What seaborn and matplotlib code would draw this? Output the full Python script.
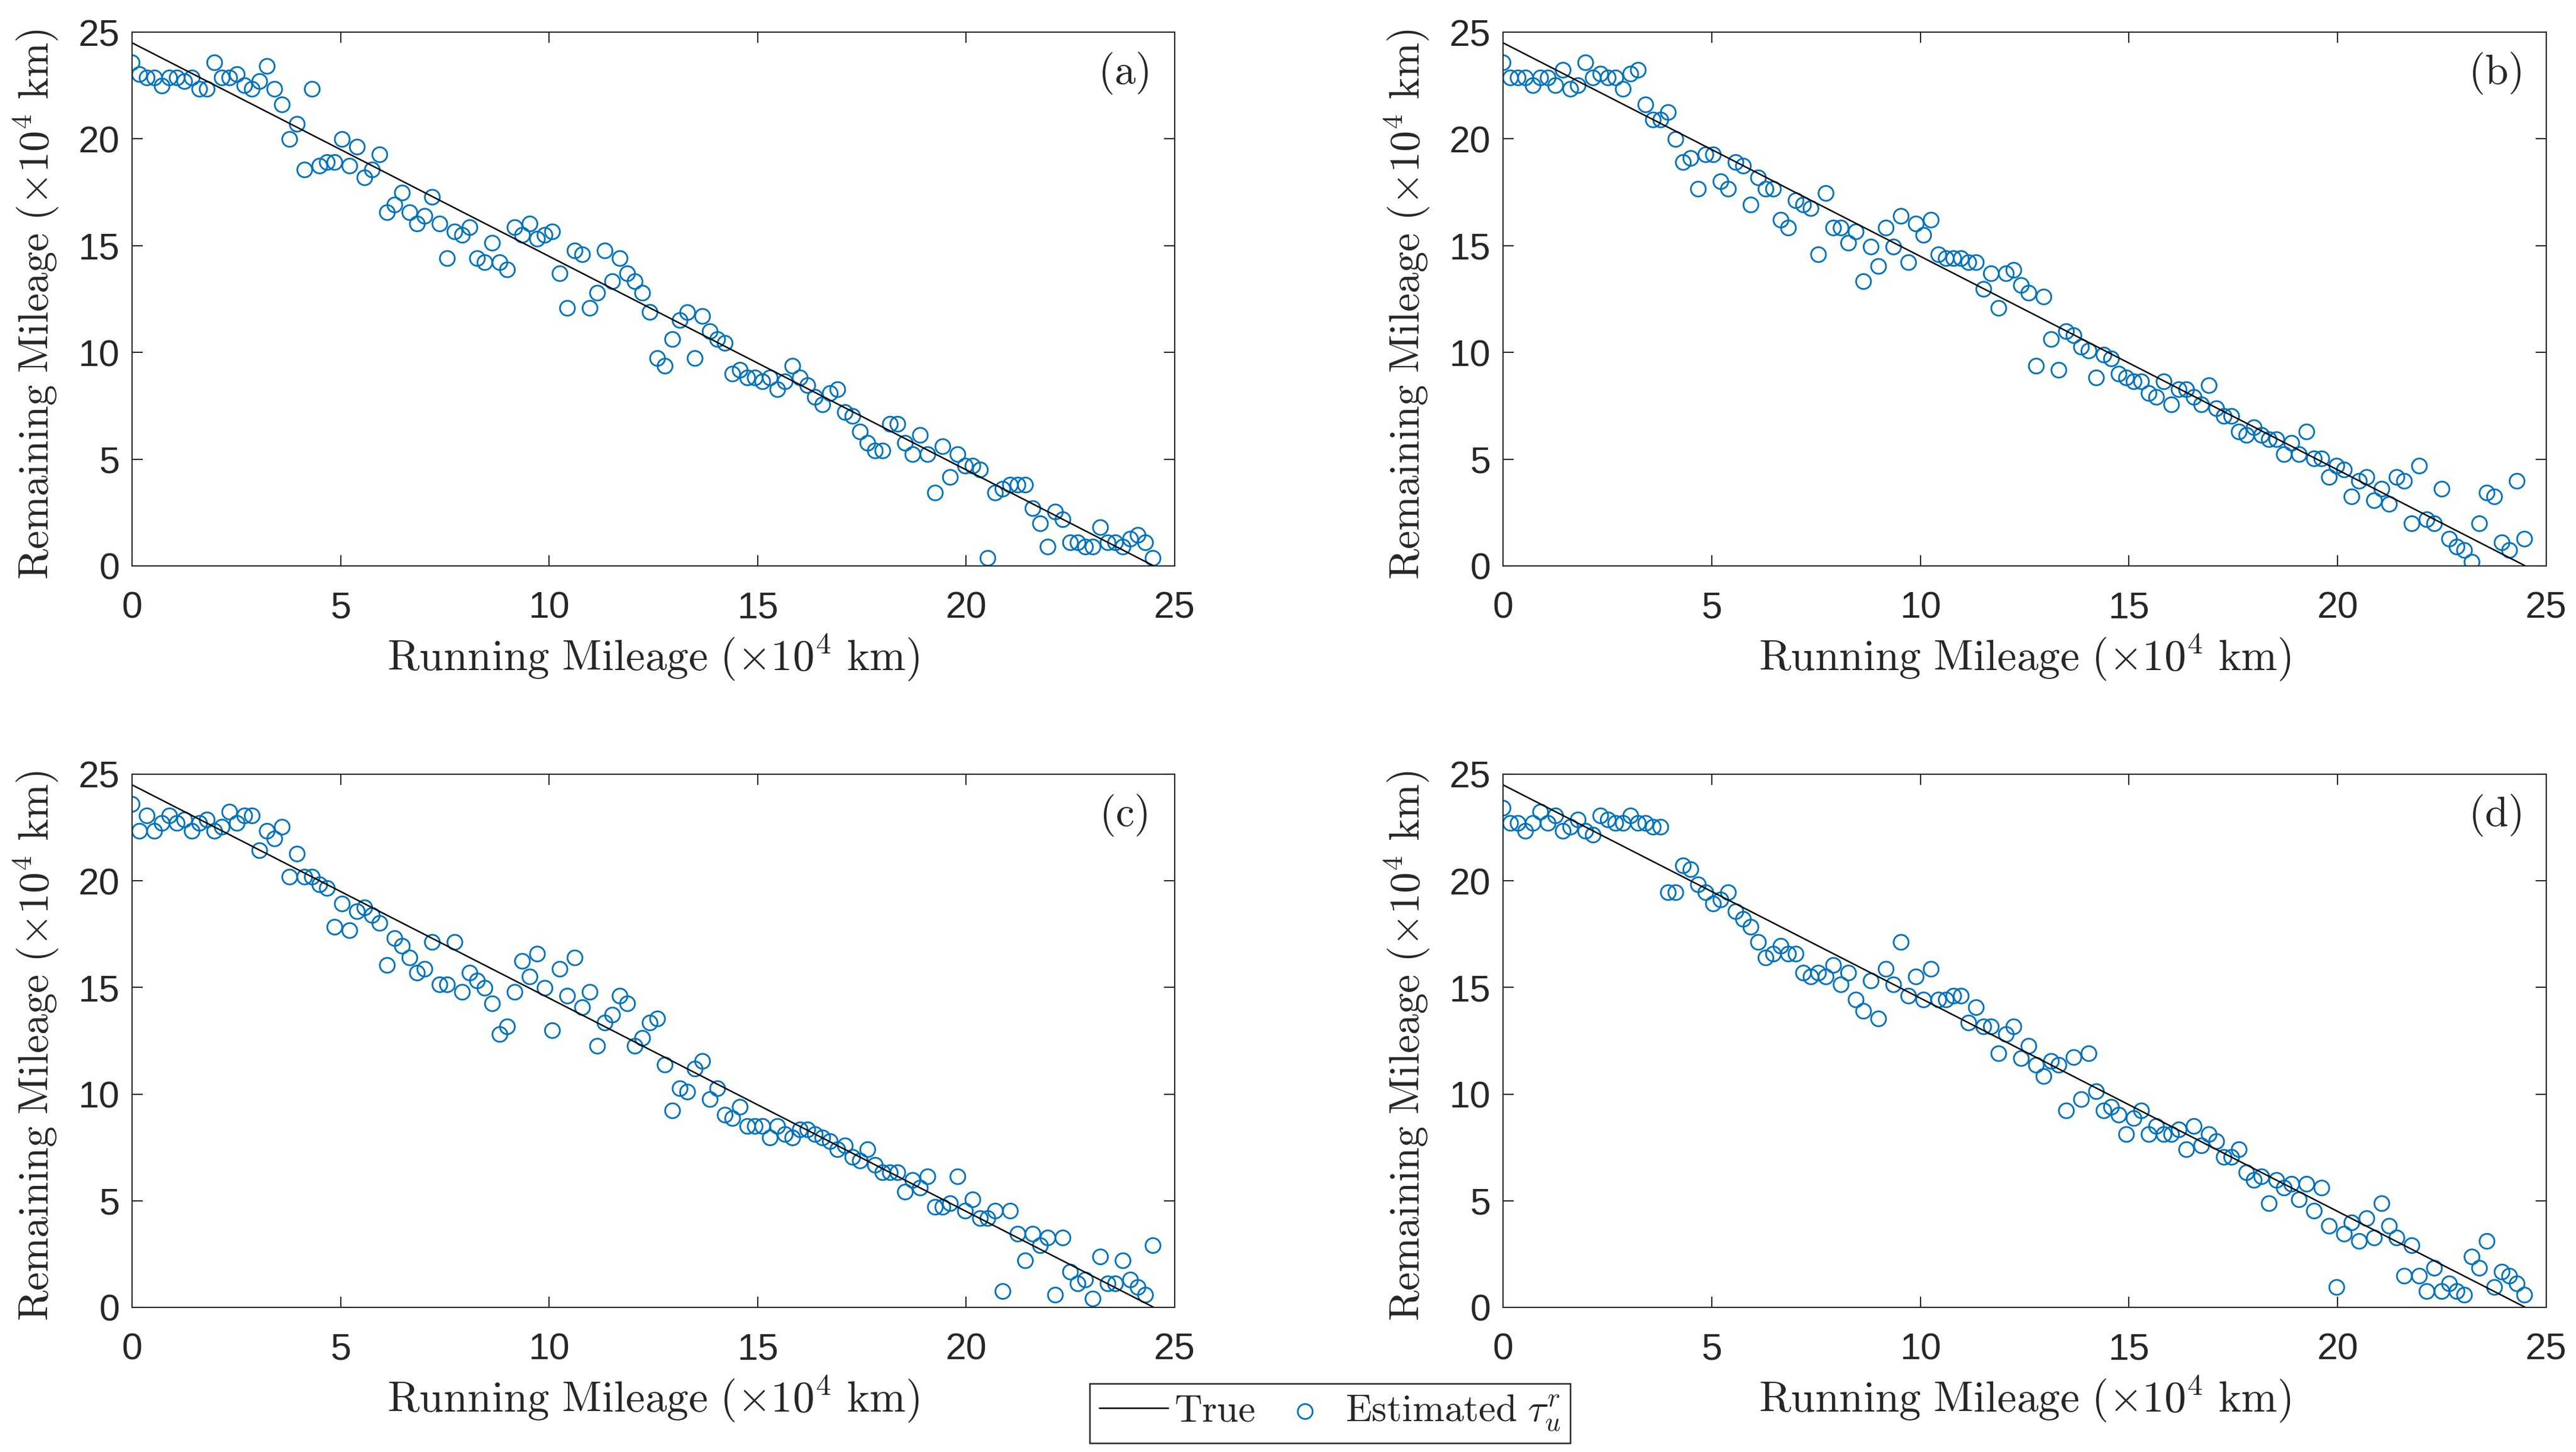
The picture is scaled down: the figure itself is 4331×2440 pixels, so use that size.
import numpy as np
import pandas as pd
import matplotlib
matplotlib.use("Agg")
import matplotlib.pyplot as plt
import seaborn as sns

# ── Data ──────────────────────────────────────────────────────────

# running mileage of each sample (x10^4 km)
RUNNING = [
    0.00, 0.18, 0.36, 0.54, 0.72, 0.90, 1.08, 1.26, 1.44, 1.62,
    1.80, 1.98, 2.16, 2.34, 2.52, 2.70, 2.88, 3.06, 3.24, 3.42,
    3.60, 3.78, 3.96, 4.14, 4.32, 4.50, 4.68, 4.86, 5.04, 5.22,
    5.40, 5.58, 5.76, 5.94, 6.12, 6.30, 6.48, 6.66, 6.84, 7.02,
    7.20, 7.38, 7.56, 7.74, 7.92, 8.10, 8.28, 8.46, 8.64, 8.82,
    9.00, 9.18, 9.36, 9.54, 9.72, 9.90, 10.08, 10.26, 10.44, 10.62,
    10.80, 10.98, 11.16, 11.34, 11.52, 11.70, 11.88, 12.06, 12.24, 12.42,
    12.60, 12.78, 12.96, 13.14, 13.32, 13.50, 13.68, 13.86, 14.04, 14.22,
    14.40, 14.58, 14.76, 14.94, 15.12, 15.30, 15.48, 15.66, 15.84, 16.02,
    16.20, 16.38, 16.56, 16.74, 16.92, 17.10, 17.28, 17.46, 17.64, 17.82,
    18.00, 18.18, 18.36, 18.54, 18.72, 18.90, 19.08, 19.26, 19.44, 19.62,
    19.80, 19.98, 20.16, 20.34, 20.52, 20.70, 20.88, 21.06, 21.24, 21.42,
    21.60, 21.78, 21.96, 22.14, 22.32, 22.50, 22.68, 22.86, 23.04, 23.22,
    23.40, 23.58, 23.76, 23.94, 24.12, 24.30, 24.48,
]

# true remaining mileage (straight line)
TRUE_X = [0.0, 24.5]
TRUE_Y = [24.5, 0.0]

EST_A = [
    23.57, 23.02, 22.86, 22.86, 22.48, 22.86, 22.86, 22.69, 22.86, 22.33,
    22.33, 23.57, 22.86, 22.86, 23.02, 22.50, 22.33, 22.69, 23.40, 22.33,
    21.60, 19.98, 20.69, 18.55, 22.33, 18.73, 18.90, 18.90, 19.98, 18.73,
    19.62, 18.18, 18.55, 19.26, 16.55, 16.91, 17.47, 16.55, 16.02, 16.38,
    17.27, 16.02, 14.40, 15.65, 15.49, 15.85, 14.40, 14.21, 15.12, 14.21,
    13.87, 15.85, 15.49, 16.02, 15.31, 15.49, 15.65, 13.69, 12.07, 14.76,
    14.58, 12.07, 12.78, 14.76, 13.32, 14.40, 13.69, 13.32, 12.78, 11.88,
    9.72, 9.36, 10.61, 11.50, 11.87, 9.72, 11.69, 10.98, 10.61, 10.43,
    8.99, 9.17, 8.81, 8.81, 8.63, 8.81, 8.26, 8.63, 9.36, 8.81,
    8.45, 7.90, 7.55, 8.08, 8.26, 7.19, 7.01, 6.28, 5.75, 5.39,
    5.39, 6.64, 6.64, 5.75, 5.22, 6.12, 5.22, 3.42, 5.59, 4.15,
    5.22, 4.68, 4.68, 4.50, 0.36, 3.42, 3.60, 3.79, 3.79, 3.79,
    2.69, 1.98, 0.89, 2.53, 2.17, 1.09, 1.09, 0.89, 0.89, 1.80,
    1.09, 1.09, 0.89, 1.26, 1.44, 1.09, 0.36,
]

EST_B = [
    23.57, 22.86, 22.86, 22.86, 22.50, 22.86, 22.86, 22.50, 23.22, 22.33,
    22.50, 23.57, 22.86, 23.04, 22.86, 22.86, 22.33, 23.04, 23.22, 21.60,
    20.89, 20.89, 21.24, 19.98, 18.90, 19.09, 17.65, 19.26, 19.26, 18.00,
    17.65, 18.90, 18.73, 16.91, 18.18, 17.65, 17.65, 16.20, 15.83, 17.11,
    16.91, 16.74, 14.58, 17.45, 15.83, 15.83, 15.12, 15.65, 13.32, 14.94,
    14.03, 15.83, 14.94, 16.38, 14.21, 16.02, 15.49, 16.20, 14.58, 14.40,
    14.40, 14.40, 14.21, 14.21, 12.96, 13.69, 12.07, 13.69, 13.85, 13.14,
    12.78, 9.36, 12.60, 10.61, 9.17, 10.98, 10.79, 10.25, 10.07, 8.81,
    9.88, 9.70, 8.99, 8.81, 8.63, 8.63, 8.08, 7.90, 8.63, 7.55,
    8.26, 8.26, 7.90, 7.55, 8.45, 7.37, 7.01, 7.01, 6.28, 6.12,
    6.48, 6.12, 5.92, 5.92, 5.22, 5.75, 5.22, 6.28, 5.02, 5.02,
    4.15, 4.68, 4.50, 3.24, 3.97, 4.15, 3.06, 3.60, 2.89, 4.15,
    3.97, 1.98, 4.68, 2.17, 1.98, 3.60, 1.26, 0.89, 0.73, 0.18,
    1.98, 3.42, 3.24, 1.09, 0.73, 3.97, 1.26,
]

EST_C = [
    23.59, 22.33, 23.05, 22.33, 22.70, 23.05, 22.70, 22.86, 22.33, 22.70,
    22.86, 22.33, 22.52, 23.23, 22.70, 23.05, 23.05, 21.42, 22.33, 21.97,
    22.52, 20.18, 21.26, 20.18, 20.18, 19.82, 19.65, 17.83, 18.92, 17.67,
    18.56, 18.74, 18.38, 18.01, 16.04, 17.30, 16.94, 16.39, 15.68, 15.86,
    17.12, 15.13, 15.13, 17.12, 14.78, 15.68, 15.31, 14.97, 14.24, 12.80,
    13.16, 14.78, 16.23, 15.50, 16.57, 14.97, 12.98, 15.86, 14.60, 16.39,
    14.06, 14.78, 12.25, 13.34, 13.71, 14.60, 14.24, 12.25, 12.62, 13.34,
    13.53, 11.37, 9.22, 10.26, 10.10, 11.18, 11.54, 9.75, 10.26, 9.02,
    8.86, 9.39, 8.49, 8.49, 8.49, 7.95, 8.49, 8.11, 7.95, 8.33,
    8.33, 8.11, 7.95, 7.78, 7.40, 7.58, 7.04, 6.87, 7.40, 6.67,
    6.32, 6.32, 6.32, 5.41, 5.96, 5.60, 6.13, 4.70, 4.70, 4.87,
    6.13, 4.52, 5.05, 4.17, 4.17, 4.52, 0.75, 4.52, 3.44, 2.19,
    3.44, 2.90, 3.26, 0.58, 3.26, 1.66, 1.11, 1.29, 0.40, 2.37,
    1.11, 1.11, 2.19, 1.29, 0.94, 0.58, 2.90,
]

EST_D = [
    23.41, 22.70, 22.70, 22.33, 22.70, 23.23, 22.70, 23.05, 22.33, 22.52,
    22.86, 22.33, 22.15, 23.05, 22.86, 22.70, 22.70, 23.05, 22.70, 22.70,
    22.52, 22.52, 19.45, 19.45, 20.71, 20.53, 19.82, 19.45, 18.92, 19.11,
    19.45, 18.56, 18.20, 17.83, 17.12, 16.39, 16.57, 16.94, 16.57, 16.57,
    15.68, 15.50, 15.68, 15.50, 16.04, 15.13, 15.68, 14.42, 13.89, 15.31,
    13.53, 15.86, 15.13, 17.12, 14.60, 15.50, 14.42, 15.86, 14.42, 14.42,
    14.60, 14.60, 13.34, 14.06, 13.16, 13.16, 11.90, 12.80, 13.16, 11.67,
    12.25, 11.36, 10.83, 11.54, 11.36, 9.22, 11.72, 9.75, 11.90, 10.12,
    9.22, 9.39, 9.02, 8.11, 8.86, 9.22, 8.11, 8.49, 8.11, 8.11,
    8.33, 7.40, 8.49, 7.58, 8.11, 7.78, 7.04, 7.04, 7.40, 6.32,
    5.96, 6.13, 4.87, 5.96, 5.60, 5.78, 5.05, 5.78, 4.52, 5.60,
    3.81, 0.94, 3.44, 3.97, 3.10, 4.17, 3.26, 4.87, 3.81, 3.26,
    1.47, 2.90, 1.47, 0.75, 1.84, 0.75, 1.11, 0.75, 0.58, 2.37,
    1.84, 3.10, 0.94, 1.66, 1.47, 1.11, 0.58,
]

PANEL_TAGS = ["(a)", "(b)", "(c)", "(d)"]
TICKS = [0, 5, 10, 15, 20, 25]

BLUE = "#0072BD"
AXIS_GREY = "#262626"

# axes boxes in figure pixels: left, top, right, bottom
W_PX, H_PX = 4331, 2440
BOXES = [
    (222, 54, 1975, 951),
    (2527, 54, 4281, 951),
    (222, 1301, 1975, 2197),
    (2527, 1301, 4281, 2197),
]


# ── Style ─────────────────────────────────────────────────────────

sns.set_style("ticks")
plt.rcParams["font.family"] = ["Liberation Sans", "DejaVu Sans"]
plt.rcParams["mathtext.fontset"] = "cm"
plt.rcParams["axes.edgecolor"] = AXIS_GREY
plt.rcParams["axes.linewidth"] = 0.5
plt.rcParams["xtick.color"] = AXIS_GREY
plt.rcParams["ytick.color"] = AXIS_GREY


def draw_panel(ax, est, tag):
    sns.lineplot(x=TRUE_X, y=TRUE_Y, color="black", linewidth=0.6,
                 label=r"$\mathrm{True}$", legend=False, ax=ax)
    sns.scatterplot(x=RUNNING, y=est, marker="o", s=36,
                    color="none", edgecolor=BLUE, linewidth=0.7,
                    label=r"$\mathrm{Estimated}\ \tau_u^r$",
                    legend=False, ax=ax)

    ax.set_xlim(0, 25)
    ax.set_ylim(0, 25)
    ax.set_xticks(TICKS)
    ax.set_yticks(TICKS)
    ax.tick_params(axis="both", direction="in", length=4.3, width=0.5,
                   top=True, right=True, labelsize=15)
    ax.tick_params(axis="x", pad=10)
    ax.tick_params(axis="y", pad=5)
    for sp in ax.spines.values():
        sp.set_visible(True)
        sp.set_linewidth(0.5)

    ax.set_xlabel(r"$\mathrm{Running\ Mileage\ (\times 10^4\ km)}$",
                  fontsize=17.5)
    ax.set_ylabel(r"$\mathrm{Remaining\ Mileage\ (\times 10^4\ km)}$",
                  fontsize=16.8)
    ax.xaxis.set_label_coords(0.5, -0.172)
    ax.xaxis.label.set_va("center")
    ax.yaxis.set_label_coords(-0.092, 0.49)
    ax.yaxis.label.set_va("center")

    ax.text(0.951, 0.923, r"$\mathrm{" + tag + "}$", transform=ax.transAxes,
            ha="center", va="center", fontsize=17)


# ── Figure ────────────────────────────────────────────────────────

fig = plt.figure(figsize=(W_PX / 300, H_PX / 300), dpi=300)

axes = []
for (l, t, r, b) in BOXES:
    ax = fig.add_axes([l / W_PX, 1 - b / H_PX, (r - l) / W_PX, (b - t) / H_PX])
    axes.append(ax)

for ax, est, tag in zip(axes, [EST_A, EST_B, EST_C, EST_D], PANEL_TAGS):
    draw_panel(ax, est, tag)

handles, labels = axes[0].get_legend_handles_labels()
leg = fig.legend(handles, labels, loc="center",
                 bbox_to_anchor=(2236 / W_PX, 1 - 2375 / H_PX),
                 ncol=2, frameon=True, fancybox=False, framealpha=1,
                 edgecolor=AXIS_GREY, fontsize=15.5, handlelength=1.8,
                 handletextpad=0.15, columnspacing=0.4, borderpad=0.25,
                 borderaxespad=0.0)
leg.get_frame().set_linewidth(0.6)

fig.savefig("out.png", dpi=300)
